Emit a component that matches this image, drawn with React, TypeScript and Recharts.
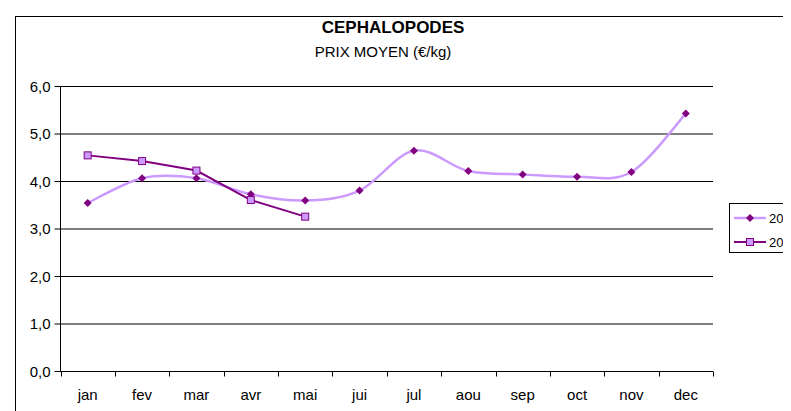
import React from 'react';
import { LineChart, Line, XAxis, YAxis, CartesianGrid } from 'recharts';

const months = ['jan', 'fev', 'mar', 'avr', 'mai', 'jui', 'jul', 'aou', 'sep', 'oct', 'nov', 'dec'];
const prix2013 = [3.55, 4.07, 4.07, 3.73, 3.6, 3.81, 4.65, 4.22, 4.15, 4.1, 4.2, 5.43];
const prix2014: (number | null)[] = [4.55, 4.43, 4.23, 3.61, 3.26, null, null, null, null, null, null, null];
const seriesNames = ['2013', '2014'];
const yTicks = [0, 1, 2, 3, 4, 5, 6];

const data = months.map((m, i) => ({ month: m, a: prix2013[i], b: prix2014[i] }));

const LIGHT = '#CC99FF';
const DARK = '#800080';
const FONT = '"Liberation Sans", Arial, sans-serif';

// Excel-like smoothing (Catmull-Rom converted to Bezier)
function excelCurve(context: any) {
  let pts: [number, number][] = [];
  return {
    areaStart() {},
    areaEnd() {},
    lineStart() {
      pts = [];
    },
    point(x: number, y: number) {
      pts.push([+x, +y]);
    },
    lineEnd() {
      const n = pts.length;
      if (n === 0) return;
      context.moveTo(pts[0][0], pts[0][1]);
      if (n === 1) return;
      for (let i = 0; i < n - 1; i++) {
        const p0 = pts[i > 0 ? i - 1 : 0];
        const p1 = pts[i];
        const p2 = pts[i + 1];
        const p3 = pts[i + 2 < n ? i + 2 : n - 1];
        const c1x = p1[0] + (p2[0] - p0[0]) / 6;
        const c1y = p1[1] + (p2[1] - p0[1]) / 6;
        const c2x = p2[0] - (p3[0] - p1[0]) / 6;
        const c2y = p2[1] - (p3[1] - p1[1]) / 6;
        context.bezierCurveTo(c1x, c1y, c2x, c2y, p2[0], p2[1]);
      }
    },
  };
}

const Diamond = (props: any) => {
  const { cx, cy, index } = props;
  if (cx == null || cy == null) return <g key={`d-${index}`} />;
  const r = 4;
  return (
    <path
      key={`d-${index}`}
      d={`M${cx},${cy - r}L${cx + r},${cy}L${cx},${cy + r}L${cx - r},${cy}Z`}
      fill={DARK}
      stroke="none"
    />
  );
};

const Square = (props: any) => {
  const { cx, cy, index } = props;
  if (cx == null || cy == null) return <g key={`s-${index}`} />;
  const r = 3.5;
  return (
    <rect key={`s-${index}`} x={cx - r} y={cy - r} width={2 * r} height={2 * r} fill={LIGHT} stroke={DARK} strokeWidth={1} />
  );
};

// Category tick: label at band centre, tick mark at band boundaries (Excel style)
const MonthTick = (props: any) => {
  const { x, y, payload, visibleTicksCount } = props;
  const off = payload.offset || 0;
  const left = Math.round(x - off) + 0.5;
  const right = Math.round(x + off) + 0.5;
  const last = payload.index === (visibleTicksCount ?? months.length) - 1;
  return (
    <g>
      <line x1={left} y1={y} x2={left} y2={y + 5} stroke="#000" strokeWidth={1} />
      {last && <line x1={right} y1={y} x2={right} y2={y + 5} stroke="#000" strokeWidth={1} />}
      <text x={x} y={y + 28} textAnchor="middle" fill="#000" fontSize={15} fontFamily={FONT}>
        {payload.value}
      </text>
    </g>
  );
};

const fmt = (v: number) => v.toFixed(1).replace('.', ',');

export default function App() {
  return (
    <div style={{ position: 'relative', width: 783, height: 403, overflow: 'hidden', background: '#fff', fontFamily: FONT }}>
      <style>{'html,body{overflow:hidden;}'}</style>
      <div style={{ position: 'absolute', left: 7, top: 8, width: 900, height: 600, border: '1px solid #000', boxSizing: 'border-box' }} />
      <div style={{ position: 'absolute', left: 0, width: 770, top: 10, textAlign: 'center', fontWeight: 'bold', fontSize: 17, color: '#000' }}>
        CEPHALOPODES
      </div>
      <div style={{ position: 'absolute', left: 0, width: 750, top: 35, textAlign: 'center', fontSize: 15, color: '#000' }}>
        PRIX MOYEN (€/kg)
      </div>
      <div style={{ position: 'absolute', left: 0, top: 0 }}>
        <LineChart width={800} height={403} data={data} margin={{ top: 78.5, right: 95, bottom: 9.5, left: 8.5 }}>
          <CartesianGrid vertical={false} stroke="#000" strokeWidth={1} />
          <XAxis
            dataKey="month"
            scale="band"
            height={30}
            axisLine={{ stroke: '#000' }}
            tickLine={false}
            tickSize={0}
            tickMargin={0}
            tick={MonthTick}
            interval={0}
          />
          <YAxis
            domain={[0, 6]}
            ticks={yTicks}
            width={44}
            axisLine={{ stroke: '#000' }}
            tickLine={{ stroke: '#000' }}
            tickSize={6}
            tickMargin={4}
            tickFormatter={fmt}
            tick={{ fill: '#000', fontSize: 15, fontFamily: FONT }}
            interval={0}
          />
          <Line
            dataKey="a"
            name={seriesNames[0]}
            type={excelCurve as any}
            stroke={LIGHT}
            strokeWidth={2.5}
            dot={Diamond}
            activeDot={false}
            isAnimationActive={false}
          />
          <Line
            dataKey="b"
            name={seriesNames[1]}
            type="linear"
            stroke={DARK}
            strokeWidth={2}
            dot={Square}
            activeDot={false}
            isAnimationActive={false}
          />
        </LineChart>
      </div>
      <div style={{ position: 'absolute', left: 721, top: 195, width: 120, height: 50, border: '1px solid #000', boxSizing: 'border-box', background: '#fff' }}>
        {seriesNames.map((name, i) => (
          <div key={name} style={{ position: 'absolute', left: 4, top: i === 0 ? 6 : 30, height: 16, display: 'flex', alignItems: 'center' }}>
            <svg width={33} height={16} style={{ display: 'block' }}>
              <line x1={0} y1={8} x2={32} y2={8} stroke={i === 0 ? LIGHT : DARK} strokeWidth={i === 0 ? 2.5 : 2} />
              {i === 0 ? (
                <path d="M16,4L20,8L16,12L12,8Z" fill={DARK} />
              ) : (
                <rect x={12.5} y={4.5} width={7} height={7} fill={LIGHT} stroke={DARK} />
              )}
            </svg>
            <span style={{ fontSize: 13, marginLeft: 2, color: '#000' }}>{name}</span>
          </div>
        ))}
      </div>
    </div>
  );
}
